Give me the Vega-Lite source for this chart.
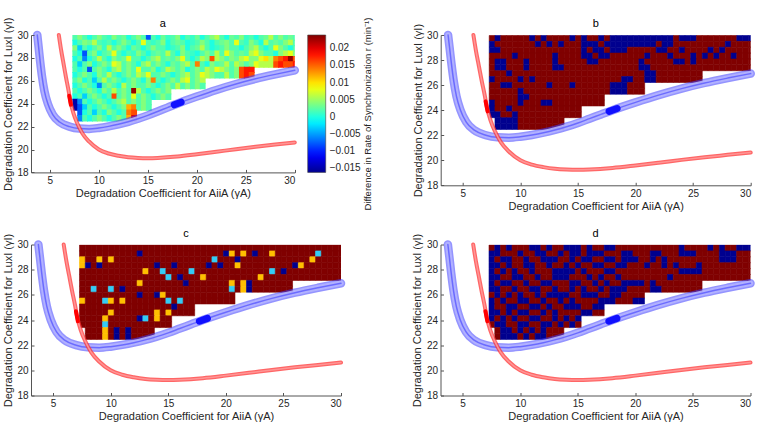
{
"$schema":"https://vega.github.io/schema/vega-lite/v6.json",
"autosize":{"type":"pad"},
"padding":{"left":2,"top":16,"right":0,"bottom":0},
"background":"white",
"spacing":15.5,
"config":{
"view":{"stroke":null},
"font":"Liberation Sans",
"axis":{"labelFont":"Liberation Sans","titleFont":"Liberation Sans","labelFontSize":10,"titleFontSize":11,"titleFontWeight":"normal","labelColor":"#262626","titleColor":"#262626","domainColor":"#555","tickColor":"#555","grid":false,"tickSize":-3,"labelPadding":6,"format":"d"},
"axisX":{"titlePadding":2},
"axisY":{"titlePadding":3.5},
"legend":{"labelFont":"Liberation Sans","labelFontSize":10,"labelColor":"#262626"}
},
"datasets":{
"blue":[{"x":3.72,"y":30},{"x":3.85,"y":29},{"x":4.0,"y":27.8},{"x":4.2,"y":26.4},{"x":4.45,"y":25.1},{"x":4.8,"y":24.0},{"x":5.3,"y":23.05},{"x":6.0,"y":22.4},{"x":7.0,"y":22.0},{"x":8.0,"y":21.83},{"x":9.0,"y":21.8},{"x":10.0,"y":21.88},{"x":11.0,"y":22.02},{"x":12.0,"y":22.2},{"x":13.0,"y":22.42},{"x":14.0,"y":22.68},{"x":15.0,"y":22.98},{"x":16.0,"y":23.32},{"x":17.0,"y":23.66},{"x":18.0,"y":24.0},{"x":20.0,"y":24.62},{"x":22.0,"y":25.2},{"x":24.0,"y":25.72},{"x":26.0,"y":26.17},{"x":28.0,"y":26.56},{"x":30.0,"y":26.92}],
"red":[{"x":5.92,"y":30},{"x":6.15,"y":28.7},{"x":6.4,"y":27.5},{"x":6.65,"y":26.3},{"x":6.9,"y":25.2},{"x":7.1,"y":24.2},{"x":7.4,"y":23.2},{"x":7.8,"y":22.3},{"x":8.3,"y":21.45},{"x":9.0,"y":20.7},{"x":10.0,"y":20.0},{"x":11.0,"y":19.65},{"x":12.0,"y":19.45},{"x":13.0,"y":19.32},{"x":14.0,"y":19.26},{"x":15.0,"y":19.24},{"x":16.0,"y":19.26},{"x":18.0,"y":19.38},{"x":20.0,"y":19.58},{"x":22.0,"y":19.8},{"x":24.0,"y":20.03},{"x":26.0,"y":20.24},{"x":28.0,"y":20.43},{"x":30.0,"y":20.62}],
"bspot":[{"x":17.7,"y":23.9},{"x":18.4,"y":24.13}],
"rspot":[{"x":6.98,"y":24.7},{"x":7.15,"y":23.9}],
"g":[
{"x":7.25,"y":29.531,"a":0.002},{"x":7.75,"y":29.531,"a":0.004,"b":1,"d":1},{"x":8.25,"y":29.531,"a":0.002},{"x":8.75,"y":29.531,"a":0,"d":1},{"x":9.25,"y":29.531,"a":0.002},{"x":9.75,"y":29.531,"a":0.004},{"x":10.25,"y":29.531,"a":0.002},{"x":10.75,"y":29.531,"a":0.001,"b":1,"d":1},{"x":11.25,"y":29.531,"a":0.004,"d":1},{"x":11.75,"y":29.531,"a":0.002,"b":1},{"x":12.25,"y":29.531,"a":0.003,"d":1},{"x":12.75,"y":29.531,"a":0},{"x":13.25,"y":29.531,"a":0.002},{"x":13.75,"y":29.531,"a":0.004,"d":1},{"x":14.25,"y":29.531,"a":0.002,"b":1,"d":1},{"x":14.75,"y":29.531,"a":-0.008,"d":1},{"x":15.25,"y":29.531,"a":0.002,"b":1},{"x":15.75,"y":29.531,"a":0,"d":1},{"x":16.25,"y":29.531,"a":0.003},{"x":16.75,"y":29.531,"a":0.001,"b":1},{"x":17.25,"y":29.531,"a":0.002,"d":1},{"x":17.75,"y":29.531,"a":0.004,"b":1,"d":1},{"x":18.25,"y":29.531,"a":0,"b":1},{"x":18.75,"y":29.531,"a":0.002,"b":1},{"x":19.25,"y":29.531,"a":0.001,"b":1},{"x":19.75,"y":29.531,"a":0.003,"b":1},{"x":20.25,"y":29.531,"a":0,"b":1},{"x":20.75,"y":29.531,"a":0.002,"b":1},{"x":21.25,"y":29.531,"a":0.004,"b":1},{"x":21.75,"y":29.531,"a":0.006,"b":1},{"x":22.25,"y":29.531,"a":0.002,"b":1},{"x":22.75,"y":29.531,"a":0,"b":1},{"x":23.25,"y":29.531,"a":0.003},{"x":23.75,"y":29.531,"a":0.002,"b":1,"d":1},{"x":24.25,"y":29.531,"a":0.004,"b":1},{"x":24.75,"y":29.531,"a":0.001,"b":1},{"x":25.25,"y":29.531,"a":0.002},{"x":25.75,"y":29.531,"a":0},{"x":26.25,"y":29.531,"a":0.002,"d":1},{"x":26.75,"y":29.531,"a":0.003},{"x":27.25,"y":29.531,"a":0.006,"d":1},{"x":27.75,"y":29.531,"a":0.002},{"x":28.25,"y":29.531,"a":0.004},{"x":28.75,"y":29.531,"a":0.002,"b":1,"d":1},{"x":29.25,"y":29.531,"a":0.003,"b":1,"d":1},{"x":29.75,"y":29.531,"a":0.002,"b":1,"d":1},
{"x":7.25,"y":29.063,"a":0,"b":1,"d":1},{"x":7.75,"y":29.063,"a":0.002,"d":1},{"x":8.25,"y":29.063,"a":0.004},{"x":8.75,"y":29.063,"a":0.003},{"x":9.25,"y":29.063,"a":0.006},{"x":9.75,"y":29.063,"a":0.002,"d":1},{"x":10.25,"y":29.063,"a":0.001},{"x":10.75,"y":29.063,"a":0.002},{"x":11.25,"y":29.063,"a":0,"b":1,"d":1},{"x":11.75,"y":29.063,"a":0.002,"d":1},{"x":12.25,"y":29.063,"a":0.004,"b":1,"c":1},{"x":12.75,"y":29.063,"a":0.002},{"x":13.25,"y":29.063,"a":0,"b":1,"d":1},{"x":13.75,"y":29.063,"a":0.002},{"x":14.25,"y":29.063,"a":0.008,"d":1},{"x":14.75,"y":29.063,"a":0.002,"d":1},{"x":15.25,"y":29.063,"a":0.001,"b":1},{"x":15.75,"y":29.063,"a":0.002,"b":1,"d":1},{"x":16.25,"y":29.063,"a":0.004,"b":1,"d":1},{"x":16.75,"y":29.063,"a":0,"d":1},{"x":17.25,"y":29.063,"a":0.002,"b":1},{"x":17.75,"y":29.063,"a":0.003,"b":1},{"x":18.25,"y":29.063,"a":0.002,"b":1},{"x":18.75,"y":29.063,"a":0,"b":1,"d":1},{"x":19.25,"y":29.063,"a":0.001,"b":1,"d":1},{"x":19.75,"y":29.063,"a":0.002,"b":1,"c":1},{"x":20.25,"y":29.063,"a":0.004,"b":1,"c":3},{"x":20.75,"y":29.063,"a":0.002,"b":1},{"x":21.25,"y":29.063,"a":0,"b":1,"c":3,"d":1},{"x":21.75,"y":29.063,"a":0.002,"d":1},{"x":22.25,"y":29.063,"a":0.003,"b":1,"c":1},{"x":22.75,"y":29.063,"a":0.004,"b":1},{"x":23.25,"y":29.063,"a":0.002},{"x":23.75,"y":29.063,"a":0.008,"c":3,"d":1},{"x":24.25,"y":29.063,"a":0.002,"d":1},{"x":24.75,"y":29.063,"a":0.001,"d":1},{"x":25.25,"y":29.063,"a":0.004},{"x":25.75,"y":29.063,"a":0.002},{"x":26.25,"y":29.063,"a":0},{"x":26.75,"y":29.063,"a":0.006},{"x":27.25,"y":29.063,"a":0.002,"d":1},{"x":27.75,"y":29.063,"a":0.003,"b":1,"c":2,"d":1},{"x":28.25,"y":29.063,"a":0.002,"d":1},{"x":28.75,"y":29.063,"a":0.004},{"x":29.25,"y":29.063,"a":0.006},{"x":29.75,"y":29.063,"a":0.002},
{"x":7.25,"y":28.594,"a":0.004,"b":1,"c":3,"d":1},{"x":7.75,"y":28.594,"a":-0.003,"b":1},{"x":8.25,"y":28.594,"a":0.002,"d":1},{"x":8.75,"y":28.594,"a":0,"c":3,"d":1},{"x":9.25,"y":28.594,"a":0.002},{"x":9.75,"y":28.594,"a":0.004,"c":3},{"x":10.25,"y":28.594,"a":0.001,"d":1},{"x":10.75,"y":28.594,"a":0.006},{"x":11.25,"y":28.594,"a":0.002},{"x":11.75,"y":28.594,"a":0.004,"d":1},{"x":12.25,"y":28.594,"a":0.002,"d":1},{"x":12.75,"y":28.594,"a":0,"d":1},{"x":13.25,"y":28.594,"a":0.003},{"x":13.75,"y":28.594,"a":0.002},{"x":14.25,"y":28.594,"a":0,"d":1},{"x":14.75,"y":28.594,"a":0.002},{"x":15.25,"y":28.594,"a":0.004,"b":1,"d":1},{"x":15.75,"y":28.594,"a":0.002,"d":1},{"x":16.25,"y":28.594,"a":0.002,"b":1},{"x":16.75,"y":28.594,"a":0,"b":1},{"x":17.25,"y":28.594,"a":0.001,"d":1},{"x":17.75,"y":28.594,"a":0.002,"b":1,"d":1},{"x":18.25,"y":28.594,"a":0.004,"b":1},{"x":18.75,"y":28.594,"a":0,"b":1,"c":2,"d":1},{"x":19.25,"y":28.594,"a":0.002,"d":1},{"x":19.75,"y":28.594,"a":0.003,"d":1},{"x":20.25,"y":28.594,"a":0.006},{"x":20.75,"y":28.594,"a":0.002,"c":1},{"x":21.25,"y":28.594,"a":0,"d":1},{"x":21.75,"y":28.594,"a":0.001,"b":1},{"x":22.25,"y":28.594,"a":0.002,"b":1,"d":1},{"x":22.75,"y":28.594,"a":0.004},{"x":23.25,"y":28.594,"a":0.002},{"x":23.75,"y":28.594,"a":0.002,"b":1},{"x":24.25,"y":28.594,"a":0},{"x":24.75,"y":28.594,"a":0.002},{"x":25.25,"y":28.594,"a":0.004},{"x":25.75,"y":28.594,"a":0.006},{"x":26.25,"y":28.594,"a":0.002,"b":1},{"x":26.75,"y":28.594,"a":0},{"x":27.25,"y":28.594,"a":0.002,"b":1,"c":3,"d":1},{"x":27.75,"y":28.594,"a":0.008,"d":1},{"x":28.25,"y":28.594,"a":0.004,"d":1},{"x":28.75,"y":28.594,"a":0.002},{"x":29.25,"y":28.594,"a":0},{"x":29.75,"y":28.594,"a":0.002},
{"x":7.25,"y":28.125,"a":0.002,"c":3,"d":1},{"x":7.75,"y":28.125,"a":0,"c":1,"d":1},{"x":8.25,"y":28.125,"a":-0.008},{"x":8.75,"y":28.125,"a":0.002,"c":1,"d":1},{"x":9.25,"y":28.125,"a":0.004,"b":1},{"x":9.75,"y":28.125,"a":0},{"x":10.25,"y":28.125,"a":0.002,"d":1},{"x":10.75,"y":28.125,"a":0.003,"d":1},{"x":11.25,"y":28.125,"a":0.008},{"x":11.75,"y":28.125,"a":0.002},{"x":12.25,"y":28.125,"a":0,"d":1},{"x":12.75,"y":28.125,"a":0.002,"b":1},{"x":13.25,"y":28.125,"a":0.001},{"x":13.75,"y":28.125,"a":0.004,"c":1,"d":1},{"x":14.25,"y":28.125,"a":0.002},{"x":14.75,"y":28.125,"a":0,"d":1},{"x":15.25,"y":28.125,"a":0.002,"b":1,"c":1},{"x":15.75,"y":28.125,"a":0.003,"b":1},{"x":16.25,"y":28.125,"a":0.002,"d":1},{"x":16.75,"y":28.125,"a":0.006,"b":1,"d":1},{"x":17.25,"y":28.125,"a":0.002,"b":1},{"x":17.75,"y":28.125,"a":0},{"x":18.25,"y":28.125,"a":0.004,"c":1,"d":1},{"x":18.75,"y":28.125,"a":0.002,"d":1},{"x":19.25,"y":28.125,"a":0.001,"c":1},{"x":19.75,"y":28.125,"a":0},{"x":20.25,"y":28.125,"a":0.002},{"x":20.75,"y":28.125,"a":0.004,"b":1,"c":3,"d":1},{"x":21.25,"y":28.125,"a":0.002},{"x":21.75,"y":28.125,"a":0.006},{"x":22.25,"y":28.125,"a":0.002,"d":1},{"x":22.75,"y":28.125,"a":0.008,"b":1},{"x":23.25,"y":28.125,"a":0.004,"d":1},{"x":23.75,"y":28.125,"a":0.002},{"x":24.25,"y":28.125,"a":0.003},{"x":24.75,"y":28.125,"a":0.002,"b":1},{"x":25.25,"y":28.125,"a":0.006,"d":1},{"x":25.75,"y":28.125,"a":0.008,"b":1,"c":1},{"x":26.25,"y":28.125,"a":0.004,"c":3},{"x":26.75,"y":28.125,"a":0.002,"b":1},{"x":27.25,"y":28.125,"a":0.002},{"x":27.75,"y":28.125,"a":0},{"x":28.25,"y":28.125,"a":0.004,"b":1},{"x":28.75,"y":28.125,"a":0.006},{"x":29.25,"y":28.125,"a":0.008},{"x":29.75,"y":28.125,"a":0.004},
{"x":7.25,"y":27.656,"a":0,"d":1},{"x":7.75,"y":27.656,"a":0.002,"b":1},{"x":8.25,"y":27.656,"a":-0.006,"b":1,"d":1},{"x":8.75,"y":27.656,"a":0},{"x":9.25,"y":27.656,"a":0.002,"d":1},{"x":9.75,"y":27.656,"a":0.006},{"x":10.25,"y":27.656,"a":0.002,"b":1},{"x":10.75,"y":27.656,"a":0,"d":1},{"x":11.25,"y":27.656,"a":0.004},{"x":11.75,"y":27.656,"a":0.002},{"x":12.25,"y":27.656,"a":0.003},{"x":12.75,"y":27.656,"a":0.008,"b":1,"c":3,"d":1},{"x":13.25,"y":27.656,"a":0.002,"d":1},{"x":13.75,"y":27.656,"a":0.002,"d":1},{"x":14.25,"y":27.656,"a":0,"c":2,"d":1},{"x":14.75,"y":27.656,"a":0.002},{"x":15.25,"y":27.656,"a":0.004,"d":1},{"x":15.75,"y":27.656,"a":0.006,"b":1},{"x":16.25,"y":27.656,"a":0.002,"b":1},{"x":16.75,"y":27.656,"a":0.003,"c":2},{"x":17.25,"y":27.656,"a":0.002,"d":1},{"x":17.75,"y":27.656,"a":0.004,"d":1},{"x":18.25,"y":27.656,"a":0.008},{"x":18.75,"y":27.656,"a":0.002},{"x":19.25,"y":27.656,"a":0},{"x":19.75,"y":27.656,"a":0.002},{"x":20.25,"y":27.656,"a":0.006,"b":1},{"x":20.75,"y":27.656,"a":0.004},{"x":21.25,"y":27.656,"a":0.016},{"x":21.75,"y":27.656,"a":0.006},{"x":22.25,"y":27.656,"a":0.004},{"x":22.75,"y":27.656,"a":0.002},{"x":23.25,"y":27.656,"a":0.004,"b":1},{"x":23.75,"y":27.656,"a":0.003,"b":1,"c":2,"d":1},{"x":24.25,"y":27.656,"a":0.006,"d":1},{"x":24.75,"y":27.656,"a":0.008,"b":1,"c":1,"d":1},{"x":25.25,"y":27.656,"a":0.004,"d":1},{"x":25.75,"y":27.656,"a":0.004},{"x":26.25,"y":27.656,"a":0.008},{"x":26.75,"y":27.656,"a":0.01},{"x":27.25,"y":27.656,"a":0.006},{"x":27.75,"y":27.656,"a":0.014},{"x":28.25,"y":27.656,"a":0.016},{"x":28.75,"y":27.656,"a":0.018},{"x":29.25,"y":27.656,"a":0.023},{"x":29.75,"y":27.656,"a":0.016},
{"x":7.25,"y":27.188,"a":0.002,"d":1},{"x":7.75,"y":27.188,"a":-0.003,"b":1,"d":1},{"x":8.25,"y":27.188,"a":0.002,"b":1},{"x":8.75,"y":27.188,"a":0.004},{"x":9.25,"y":27.188,"a":0,"d":1},{"x":9.75,"y":27.188,"a":0.002,"d":1},{"x":10.25,"y":27.188,"a":0.004,"b":1},{"x":10.75,"y":27.188,"a":0.002},{"x":11.25,"y":27.188,"a":0.008,"d":1},{"x":11.75,"y":27.188,"a":0.006},{"x":12.25,"y":27.188,"a":0.002},{"x":12.75,"y":27.188,"a":0.004,"b":1,"d":1},{"x":13.25,"y":27.188,"a":0.002,"b":1,"d":1},{"x":13.75,"y":27.188,"a":0,"d":1},{"x":14.25,"y":27.188,"a":0.004},{"x":14.75,"y":27.188,"a":0.006,"c":2},{"x":15.25,"y":27.188,"a":0.002},{"x":15.75,"y":27.188,"a":0.004,"c":1,"d":1},{"x":16.25,"y":27.188,"a":0.002},{"x":16.75,"y":27.188,"a":0,"d":1},{"x":17.25,"y":27.188,"a":0.003},{"x":17.75,"y":27.188,"a":0.002,"c":3},{"x":18.25,"y":27.188,"a":0.004,"d":1},{"x":18.75,"y":27.188,"a":0.006},{"x":19.25,"y":27.188,"a":0.002},{"x":19.75,"y":27.188,"a":0.014},{"x":20.25,"y":27.188,"a":0.002,"b":1},{"x":20.75,"y":27.188,"a":0,"b":1},{"x":21.25,"y":27.188,"a":0.004},{"x":21.75,"y":27.188,"a":0.002},{"x":22.25,"y":27.188,"a":0.003},{"x":22.75,"y":27.188,"a":0.006,"c":3,"d":1},{"x":23.25,"y":27.188,"a":0.002},{"x":23.75,"y":27.188,"a":0.006},{"x":24.25,"y":27.188,"a":0.004},{"x":24.75,"y":27.188,"a":0.002},{"x":25.25,"y":27.188,"a":0.004},{"x":25.75,"y":27.188,"a":0.008},{"x":26.25,"y":27.188,"a":0.006},{"x":26.75,"y":27.188,"a":0.006},{"x":27.25,"y":27.188,"a":0.006},{"x":27.75,"y":27.188,"a":0.016},{"x":28.25,"y":27.188,"a":0.018},{"x":28.75,"y":27.188,"a":0.016},{"x":29.25,"y":27.188,"a":0.016},{"x":29.75,"y":27.188,"a":0.018},
{"x":7.25,"y":26.719,"a":0.002,"d":1},{"x":7.75,"y":26.719,"a":0},{"x":8.25,"y":26.719,"a":0.002,"d":1},{"x":8.75,"y":26.719,"a":-0.008,"b":1,"d":1},{"x":9.25,"y":26.719,"a":0.002},{"x":9.75,"y":26.719,"a":0.004},{"x":10.25,"y":26.719,"a":0.002,"d":1},{"x":10.75,"y":26.719,"a":0},{"x":11.25,"y":26.719,"a":0.004},{"x":11.75,"y":26.719,"a":0.006,"d":1},{"x":12.25,"y":26.719,"a":0.002,"c":3,"d":1},{"x":12.75,"y":26.719,"a":0.004},{"x":13.25,"y":26.719,"a":0.002},{"x":13.75,"y":26.719,"a":0.008},{"x":14.25,"y":26.719,"a":0.002,"d":1},{"x":14.75,"y":26.719,"a":0.002,"d":1},{"x":15.25,"y":26.719,"a":0.004},{"x":15.75,"y":26.719,"a":0},{"x":16.25,"y":26.719,"a":0.002,"c":1,"d":1},{"x":16.75,"y":26.719,"a":0.006},{"x":17.25,"y":26.719,"a":0.004,"d":1},{"x":17.75,"y":26.719,"a":0.002},{"x":18.25,"y":26.719,"a":0.004},{"x":18.75,"y":26.719,"a":0,"d":1},{"x":19.25,"y":26.719,"a":0.002,"d":1},{"x":19.75,"y":26.719,"a":0.004,"d":1},{"x":20.25,"y":26.719,"a":0.002,"c":3,"d":1},{"x":20.75,"y":26.719,"a":0.006,"b":1},{"x":21.25,"y":26.719,"a":0.004,"b":1,"c":3,"d":1},{"x":21.75,"y":26.719,"a":0.008,"c":1},{"x":22.25,"y":26.719,"a":0.006},{"x":22.75,"y":26.719,"a":0.004},{"x":23.25,"y":26.719,"a":0.002},{"x":23.75,"y":26.719,"a":0.004},{"x":24.25,"y":26.719,"a":0.016},{"x":24.75,"y":26.719,"a":0.018},{"x":25.25,"y":26.719,"a":0.018},
{"x":7.25,"y":26.25,"a":0,"b":1,"d":1},{"x":7.75,"y":26.25,"a":0.002,"d":1},{"x":8.25,"y":26.25,"a":0.004,"c":2},{"x":8.75,"y":26.25,"a":0.002},{"x":9.25,"y":26.25,"a":0,"d":1},{"x":9.75,"y":26.25,"a":0.004,"b":1,"c":2},{"x":10.25,"y":26.25,"a":0.002},{"x":10.75,"y":26.25,"a":0.006,"b":1,"c":1,"d":1},{"x":11.25,"y":26.25,"a":0.002,"d":1},{"x":11.75,"y":26.25,"a":0},{"x":12.25,"y":26.25,"a":0.002},{"x":12.75,"y":26.25,"a":0.004,"d":1},{"x":13.25,"y":26.25,"a":0.002},{"x":13.75,"y":26.25,"a":0.006},{"x":14.25,"y":26.25,"a":0.004,"d":1},{"x":14.75,"y":26.25,"a":0.008},{"x":15.25,"y":26.25,"a":0.002,"d":1},{"x":15.75,"y":26.25,"a":0.002},{"x":16.25,"y":26.25,"a":0.004},{"x":16.75,"y":26.25,"a":0.002,"d":1},{"x":17.25,"y":26.25,"a":0},{"x":17.75,"y":26.25,"a":0.002,"d":1},{"x":18.25,"y":26.25,"a":0.004,"d":1},{"x":18.75,"y":26.25,"a":0.006,"b":1,"d":1},{"x":19.25,"y":26.25,"a":0.002,"b":1},{"x":19.75,"y":26.25,"a":0.004},{"x":20.25,"y":26.25,"a":0.008,"c":2},{"x":20.75,"y":26.25,"a":0.006,"b":1},{"x":21.25,"y":26.25,"a":0.004,"b":1,"c":3,"d":1},{"x":21.75,"y":26.25,"a":0.002,"c":1,"d":1},{"x":22.25,"y":26.25,"a":0.002},{"x":22.75,"y":26.25,"a":0.006},{"x":23.25,"y":26.25,"a":0.002},{"x":23.75,"y":26.25,"a":0.004},{"x":24.25,"y":26.25,"a":0.016},{"x":24.75,"y":26.25,"a":0.018},{"x":25.25,"y":26.25,"a":0.016},
{"x":7.25,"y":25.781,"a":0.002},{"x":7.75,"y":25.781,"a":0.004,"d":1},{"x":8.25,"y":25.781,"a":0,"b":1},{"x":8.75,"y":25.781,"a":0.002,"b":1,"d":1},{"x":9.25,"y":25.781,"a":-0.003},{"x":9.75,"y":25.781,"a":0.002,"d":1},{"x":10.25,"y":25.781,"a":0.006},{"x":10.75,"y":25.781,"a":0.002},{"x":11.25,"y":25.781,"a":0.004,"d":1},{"x":11.75,"y":25.781,"a":0.002},{"x":12.25,"y":25.781,"a":0,"b":1,"c":1,"d":1},{"x":12.75,"y":25.781,"a":0.002,"d":1},{"x":13.25,"y":25.781,"a":0.004,"d":1},{"x":13.75,"y":25.781,"a":0.002,"c":1,"d":1},{"x":14.25,"y":25.781,"a":0,"b":1,"c":3},{"x":14.75,"y":25.781,"a":0.004},{"x":15.25,"y":25.781,"a":0.014,"d":1},{"x":15.75,"y":25.781,"a":0.002,"d":1},{"x":16.25,"y":25.781,"a":0,"d":1},{"x":16.75,"y":25.781,"a":0.002},{"x":17.25,"y":25.781,"a":0.004},{"x":17.75,"y":25.781,"a":0.002,"b":1,"d":1},{"x":18.25,"y":25.781,"a":0.006,"b":1,"d":1},{"x":18.75,"y":25.781,"a":0.008,"b":1},{"x":19.25,"y":25.781,"a":0.002},{"x":19.75,"y":25.781,"a":0.004},{"x":20.25,"y":25.781,"a":0.006},
{"x":7.25,"y":25.313,"a":0,"c":3,"d":1},{"x":7.75,"y":25.313,"a":0.002},{"x":8.25,"y":25.313,"a":0.004,"d":1},{"x":8.75,"y":25.313,"a":0.002},{"x":9.25,"y":25.313,"a":0,"c":2},{"x":9.75,"y":25.313,"a":-0.006,"b":1,"c":3,"d":1},{"x":10.25,"y":25.313,"a":0.002,"d":1},{"x":10.75,"y":25.313,"a":0.004,"c":3},{"x":11.25,"y":25.313,"a":0.002},{"x":11.75,"y":25.313,"a":0,"d":1},{"x":12.25,"y":25.313,"a":0.006},{"x":12.75,"y":25.313,"a":0.002},{"x":13.25,"y":25.313,"a":0.004,"d":1},{"x":13.75,"y":25.313,"a":0.002},{"x":14.25,"y":25.313,"a":0.002,"d":1},{"x":14.75,"y":25.313,"a":0.004,"c":2},{"x":15.25,"y":25.313,"a":0.002},{"x":15.75,"y":25.313,"a":0,"c":2},{"x":16.25,"y":25.313,"a":0.002},{"x":16.75,"y":25.313,"a":0.004,"d":1},{"x":17.25,"y":25.313,"a":0.002,"d":1},{"x":17.75,"y":25.313,"a":0.006,"b":1,"d":1},{"x":18.25,"y":25.313,"a":0.002,"b":1},{"x":18.75,"y":25.313,"a":0.004,"b":1},{"x":19.25,"y":25.313,"a":0.002},{"x":19.75,"y":25.313,"a":0.004,"d":1},{"x":20.25,"y":25.313,"a":0.002,"d":1},
{"x":7.25,"y":24.844,"a":0.002,"d":1},{"x":7.75,"y":24.844,"a":0},{"x":8.25,"y":24.844,"a":0.002},{"x":8.75,"y":24.844,"a":0.004,"d":1},{"x":9.25,"y":24.844,"a":0.002,"d":1},{"x":9.75,"y":24.844,"a":0,"b":1},{"x":10.25,"y":24.844,"a":0.004,"b":1},{"x":10.75,"y":24.844,"a":0.002,"d":1},{"x":11.25,"y":24.844,"a":0.006,"d":1},{"x":11.75,"y":24.844,"a":0.002},{"x":12.25,"y":24.844,"a":0.004,"d":1},{"x":12.75,"y":24.844,"a":0.002},{"x":13.25,"y":24.844,"a":0.023},{"x":13.75,"y":24.844,"a":0.006,"d":1},{"x":14.25,"y":24.844,"a":0.002,"d":1},{"x":14.75,"y":24.844,"a":0,"d":1},{"x":15.25,"y":24.844,"a":0.002,"c":1},{"x":15.75,"y":24.844,"a":0.004},{"x":16.25,"y":24.844,"a":0.002,"d":1},{"x":16.75,"y":24.844,"a":0.004,"d":1},
{"x":7.25,"y":24.375,"a":0,"b":1,"d":1},{"x":7.75,"y":24.375,"a":0.002,"d":1},{"x":8.25,"y":24.375,"a":-0.003},{"x":8.75,"y":24.375,"a":0.002,"d":1},{"x":9.25,"y":24.375,"a":0.004},{"x":9.75,"y":24.375,"a":0.002,"b":1,"c":3,"d":1},{"x":10.25,"y":24.375,"a":0,"d":1},{"x":10.75,"y":24.375,"a":0.002},{"x":11.25,"y":24.375,"a":0.016},{"x":11.75,"y":24.375,"a":0.002,"b":1,"d":1},{"x":12.25,"y":24.375,"a":0.004,"b":1},{"x":12.75,"y":24.375,"a":0.002,"d":1},{"x":13.25,"y":24.375,"a":0.008},{"x":13.75,"y":24.375,"a":0.002,"c":3},{"x":14.25,"y":24.375,"a":0.004},{"x":14.75,"y":24.375,"a":0.002,"c":3},{"x":15.25,"y":24.375,"a":0,"d":1},{"x":15.75,"y":24.375,"a":0.002,"d":1},{"x":16.25,"y":24.375,"a":0.004},{"x":16.75,"y":24.375,"a":0.002},
{"x":7.25,"y":23.906,"a":-0.015,"b":1,"d":1},{"x":7.75,"y":23.906,"a":-0.006},{"x":8.25,"y":23.906,"a":0.002,"d":1},{"x":8.75,"y":23.906,"a":0,"b":1},{"x":9.25,"y":23.906,"a":0.002,"c":3,"d":1},{"x":9.75,"y":23.906,"a":0.004},{"x":10.25,"y":23.906,"a":0.002},{"x":10.75,"y":23.906,"a":0,"d":1},{"x":11.25,"y":23.906,"a":0.002,"d":1},{"x":11.75,"y":23.906,"a":0.004},{"x":12.25,"y":23.906,"a":0.006,"c":1},{"x":12.75,"y":23.906,"a":0.002,"c":2,"d":1},{"x":13.25,"y":23.906,"a":0.004},{"x":13.75,"y":23.906,"a":0.002,"c":3,"d":1},{"x":14.25,"y":23.906,"a":0.004},{"x":14.75,"y":23.906,"a":0.002,"d":1},
{"x":7.25,"y":23.438,"a":-0.015,"b":1},{"x":7.75,"y":23.438,"a":-0.008,"b":1,"d":1},{"x":8.25,"y":23.438,"a":-0.003,"d":1},{"x":8.75,"y":23.438,"a":0.002},{"x":9.25,"y":23.438,"a":0,"b":1,"c":2},{"x":9.75,"y":23.438,"a":0.002,"d":1},{"x":10.25,"y":23.438,"a":0.004,"d":1},{"x":10.75,"y":23.438,"a":0.002},{"x":11.25,"y":23.438,"a":0},{"x":11.75,"y":23.438,"a":0.002,"d":1},{"x":12.25,"y":23.438,"a":0.004,"d":1},{"x":12.75,"y":23.438,"a":0.012},{"x":13.25,"y":23.438,"a":0.014,"d":1},{"x":13.75,"y":23.438,"a":0.002},{"x":14.25,"y":23.438,"a":0.004,"d":1},{"x":14.75,"y":23.438,"a":0.002},
{"x":7.75,"y":22.969,"a":-0.008,"b":1},{"x":8.25,"y":22.969,"a":0,"b":1,"d":1},{"x":8.75,"y":22.969,"a":0.002,"b":1,"d":1},{"x":9.25,"y":22.969,"a":-0.003,"b":1,"c":3},{"x":9.75,"y":22.969,"a":0.002,"d":1},{"x":10.25,"y":22.969,"a":0,"c":1},{"x":10.75,"y":22.969,"a":0.004,"d":1},{"x":11.25,"y":22.969,"a":0.002,"c":1},{"x":11.75,"y":22.969,"a":0,"d":1},{"x":12.25,"y":22.969,"a":0.002},{"x":12.75,"y":22.969,"a":0.014},{"x":13.25,"y":22.969,"a":0.016},
{"x":7.75,"y":22.5,"a":-0.006,"b":1},{"x":8.25,"y":22.5,"a":0.002,"b":1,"d":1},{"x":8.75,"y":22.5,"a":0,"b":1,"d":1},{"x":9.25,"y":22.5,"a":0.002,"b":1,"c":3,"d":1},{"x":9.75,"y":22.5,"a":0.004},{"x":10.25,"y":22.5,"a":0.002,"c":1,"d":1},{"x":10.75,"y":22.5,"a":0},{"x":11.25,"y":22.5,"a":0.002,"c":1,"d":1},{"x":11.75,"y":22.5,"a":0.004,"d":1},{"x":12.25,"y":22.5,"a":0.002},{"x":12.75,"y":22.5,"a":0.012},{"x":13.25,"y":22.5,"a":0.02}
]
},
"vconcat":[
{"hconcat":[
{"width":263.8,"height":137.4,
"layer":[
{"data":{"name":"g"},"mark":{"type":"rect","clip":true},
"encoding":{
"x":{"field":"x","type":"quantitative","bin":{"binned":true,"step":0.6},"scale":{"domain":[3.08,30],"nice":false,"zero":false},"axis":{"values":[5,10,15,20,25,30],"title":"Degradation Coefficient for AiiA (γA)"}},
"y":{"field":"y","type":"quantitative","bin":{"binned":true,"step":0.56},"scale":{"domain":[18,30],"nice":false,"zero":false},"axis":{"values":[18,20,22,24,26,28,30],"title":"Degradation Coefficient for LuxI (γI)"}},
"color":{"field":"a","type":"quantitative","scale":{"domain":[-0.0162,-0.0112,-0.0012,0.0089,0.0189,0.0239],"range":["#00008f","#0000ff","#00ffff","#ffff00","#ff0000","#800000"],"interpolate":"rgb"},"legend":{"type":"gradient","orient":"none","legendX":276.7,"legendY":0,"direction":"vertical","gradientLength":137.4,"gradientThickness":18,"title":null,"values":[-0.015,-0.01,-0.005,0,0.005,0.01,0.015,0.02],"format":".3~f","labelOffset":4,"labelOverlap":false,"gradientStrokeColor":"#444","gradientStrokeWidth":0.6}}
}},
{"data":{"name":"blue"},"mark":{"type":"line","interpolate":"monotone","strokeWidth":8.5,"color":"#3c3cff","opacity":0.55,"strokeCap":"round"},"encoding":{"x":{"field":"x","type":"quantitative"},"y":{"field":"y","type":"quantitative"}}},
{"data":{"name":"blue"},"mark":{"type":"line","interpolate":"monotone","strokeWidth":5.5,"color":"#b4b4ff","opacity":0.9,"strokeCap":"round"},"encoding":{"x":{"field":"x","type":"quantitative"},"y":{"field":"y","type":"quantitative"}}},
{"data":{"name":"blue"},"mark":{"type":"line","interpolate":"monotone","strokeWidth":1.5,"color":"#5a5aff","opacity":0.8,"strokeCap":"round"},"encoding":{"x":{"field":"x","type":"quantitative"},"y":{"field":"y","type":"quantitative"}}},
{"data":{"name":"bspot"},"mark":{"type":"line","strokeWidth":7,"color":"#1010ff","strokeCap":"round"},"encoding":{"x":{"field":"x","type":"quantitative"},"y":{"field":"y","type":"quantitative"}}},
{"data":{"name":"red"},"mark":{"type":"line","interpolate":"monotone","strokeWidth":4,"color":"#ff3333","opacity":0.75,"strokeCap":"round"},"encoding":{"x":{"field":"x","type":"quantitative"},"y":{"field":"y","type":"quantitative"}}},
{"data":{"name":"red"},"mark":{"type":"line","interpolate":"monotone","strokeWidth":1.5,"color":"#ff9a9a","opacity":0.9,"strokeCap":"round"},"encoding":{"x":{"field":"x","type":"quantitative"},"y":{"field":"y","type":"quantitative"}}},
{"data":{"name":"rspot"},"mark":{"type":"line","strokeWidth":4,"color":"#ff0000","strokeCap":"round"},"encoding":{"x":{"field":"x","type":"quantitative"},"y":{"field":"y","type":"quantitative"}}},
{"data":{"values":[{"t":"a"}]},"mark":{"type":"text","fontSize":11,"font":"Liberation Sans","color":"#000","baseline":"middle"},"encoding":{"x":{"datum":16.54},"y":{"datum":30.96},"text":{"field":"t","type":"nominal"}}},
{"data":{"values":[{"t":"Difference in Rate of Synchronization r (min⁻¹)"}]},"mark":{"type":"text","angle":270,"fontSize":9.5,"font":"Liberation Sans","color":"#262626"},"encoding":{"x":{"datum":37.44},"y":{"datum":23.1},"text":{"field":"t","type":"nominal"}}}
]},
{"width":310,"height":150.3,
"layer":[
{"data":{"name":"g"},"mark":{"type":"rect","clip":true,"strokeWidth":0.6},
"encoding":{
"x":{"field":"x","type":"quantitative","bin":{"binned":true,"step":0.5},"scale":{"domain":[3.08,30],"nice":false,"zero":false},"axis":{"values":[5,10,15,20,25,30],"title":"Degradation Coefficient for AiiA (γA)"}},
"y":{"field":"y","type":"quantitative","bin":{"binned":true,"step":0.469},"scale":{"domain":[18,30],"nice":false,"zero":false},"axis":{"values":[18,20,22,24,26,28,30],"title":"Degradation Coefficient for LuxI (γI)"}},
"fill":{"condition":{"test":"datum.b==1","value":"#00008f"},"value":"#800000"},
"stroke":{"condition":{"test":"datum.b==1","value":"#00008f"},"value":"#800000"}
}},
{"data":{"name":"blue"},"mark":{"type":"line","interpolate":"monotone","strokeWidth":8.5,"color":"#3c3cff","opacity":0.55,"strokeCap":"round"},"encoding":{"x":{"field":"x","type":"quantitative"},"y":{"field":"y","type":"quantitative"}}},
{"data":{"name":"blue"},"mark":{"type":"line","interpolate":"monotone","strokeWidth":5.5,"color":"#b4b4ff","opacity":0.9,"strokeCap":"round"},"encoding":{"x":{"field":"x","type":"quantitative"},"y":{"field":"y","type":"quantitative"}}},
{"data":{"name":"blue"},"mark":{"type":"line","interpolate":"monotone","strokeWidth":1.5,"color":"#5a5aff","opacity":0.8,"strokeCap":"round"},"encoding":{"x":{"field":"x","type":"quantitative"},"y":{"field":"y","type":"quantitative"}}},
{"data":{"name":"bspot"},"mark":{"type":"line","strokeWidth":7,"color":"#1010ff","strokeCap":"round"},"encoding":{"x":{"field":"x","type":"quantitative"},"y":{"field":"y","type":"quantitative"}}},
{"data":{"name":"red"},"mark":{"type":"line","interpolate":"monotone","strokeWidth":4,"color":"#ff3333","opacity":0.75,"strokeCap":"round"},"encoding":{"x":{"field":"x","type":"quantitative"},"y":{"field":"y","type":"quantitative"}}},
{"data":{"name":"red"},"mark":{"type":"line","interpolate":"monotone","strokeWidth":1.5,"color":"#ff9a9a","opacity":0.9,"strokeCap":"round"},"encoding":{"x":{"field":"x","type":"quantitative"},"y":{"field":"y","type":"quantitative"}}},
{"data":{"name":"rspot"},"mark":{"type":"line","strokeWidth":4,"color":"#ff0000","strokeCap":"round"},"encoding":{"x":{"field":"x","type":"quantitative"},"y":{"field":"y","type":"quantitative"}}},
{"data":{"values":[{"t":"b"}]},"mark":{"type":"text","fontSize":11,"font":"Liberation Sans","color":"#000","baseline":"middle"},"encoding":{"x":{"datum":16.54},"y":{"datum":30.88},"text":{"field":"t","type":"nominal"}}}
]}
],"spacing":145.7,"bounds":"flush"},
{"hconcat":[
{"width":310,"height":151,
"layer":[
{"data":{"name":"g"},"mark":{"type":"rect","clip":true,"strokeWidth":0.6},
"encoding":{
"x":{"field":"x","type":"quantitative","bin":{"binned":true,"step":0.5},"scale":{"domain":[3.08,30],"nice":false,"zero":false},"axis":{"values":[5,10,15,20,25,30],"title":"Degradation Coefficient for AiiA (γA)"}},
"y":{"field":"y","type":"quantitative","bin":{"binned":true,"step":0.469},"scale":{"domain":[18,30],"nice":false,"zero":false},"axis":{"values":[18,20,22,24,26,28,30],"title":"Degradation Coefficient for LuxI (γI)"}},
"fill":{"condition":[{"test":"datum.c==1","value":"#00008f"},{"test":"datum.c==2","value":"#33ccf5"},{"test":"datum.c==3","value":"#ffc000"}],"value":"#800000"},
"stroke":{"condition":[{"test":"datum.c==1","value":"#00008f"},{"test":"datum.c==2","value":"#33ccf5"},{"test":"datum.c==3","value":"#ffc000"}],"value":"#800000"}
}},
{"data":{"name":"blue"},"mark":{"type":"line","interpolate":"monotone","strokeWidth":8.5,"color":"#3c3cff","opacity":0.55,"strokeCap":"round"},"encoding":{"x":{"field":"x","type":"quantitative"},"y":{"field":"y","type":"quantitative"}}},
{"data":{"name":"blue"},"mark":{"type":"line","interpolate":"monotone","strokeWidth":5.5,"color":"#b4b4ff","opacity":0.9,"strokeCap":"round"},"encoding":{"x":{"field":"x","type":"quantitative"},"y":{"field":"y","type":"quantitative"}}},
{"data":{"name":"blue"},"mark":{"type":"line","interpolate":"monotone","strokeWidth":1.5,"color":"#5a5aff","opacity":0.8,"strokeCap":"round"},"encoding":{"x":{"field":"x","type":"quantitative"},"y":{"field":"y","type":"quantitative"}}},
{"data":{"name":"bspot"},"mark":{"type":"line","strokeWidth":7,"color":"#1010ff","strokeCap":"round"},"encoding":{"x":{"field":"x","type":"quantitative"},"y":{"field":"y","type":"quantitative"}}},
{"data":{"name":"red"},"mark":{"type":"line","interpolate":"monotone","strokeWidth":4,"color":"#ff3333","opacity":0.75,"strokeCap":"round"},"encoding":{"x":{"field":"x","type":"quantitative"},"y":{"field":"y","type":"quantitative"}}},
{"data":{"name":"red"},"mark":{"type":"line","interpolate":"monotone","strokeWidth":1.5,"color":"#ff9a9a","opacity":0.9,"strokeCap":"round"},"encoding":{"x":{"field":"x","type":"quantitative"},"y":{"field":"y","type":"quantitative"}}},
{"data":{"name":"rspot"},"mark":{"type":"line","strokeWidth":4,"color":"#ff0000","strokeCap":"round"},"encoding":{"x":{"field":"x","type":"quantitative"},"y":{"field":"y","type":"quantitative"}}},
{"data":{"values":[{"t":"c"}]},"mark":{"type":"text","fontSize":11,"font":"Liberation Sans","color":"#000","baseline":"middle"},"encoding":{"x":{"datum":16.54},"y":{"datum":30.87},"text":{"field":"t","type":"nominal"}}}
]},
{"width":310,"height":151,
"layer":[
{"data":{"name":"g"},"mark":{"type":"rect","clip":true,"strokeWidth":0.6},
"encoding":{
"x":{"field":"x","type":"quantitative","bin":{"binned":true,"step":0.5},"scale":{"domain":[3.08,30],"nice":false,"zero":false},"axis":{"values":[5,10,15,20,25,30],"title":"Degradation Coefficient for AiiA (γA)"}},
"y":{"field":"y","type":"quantitative","bin":{"binned":true,"step":0.469},"scale":{"domain":[18,30],"nice":false,"zero":false},"axis":{"values":[18,20,22,24,26,28,30],"title":"Degradation Coefficient for LuxI (γI)"}},
"fill":{"condition":{"test":"datum.d==1","value":"#00008f"},"value":"#800000"},
"stroke":{"condition":{"test":"datum.d==1","value":"#00008f"},"value":"#800000"}
}},
{"data":{"name":"blue"},"mark":{"type":"line","interpolate":"monotone","strokeWidth":8.5,"color":"#3c3cff","opacity":0.55,"strokeCap":"round"},"encoding":{"x":{"field":"x","type":"quantitative"},"y":{"field":"y","type":"quantitative"}}},
{"data":{"name":"blue"},"mark":{"type":"line","interpolate":"monotone","strokeWidth":5.5,"color":"#b4b4ff","opacity":0.9,"strokeCap":"round"},"encoding":{"x":{"field":"x","type":"quantitative"},"y":{"field":"y","type":"quantitative"}}},
{"data":{"name":"blue"},"mark":{"type":"line","interpolate":"monotone","strokeWidth":1.5,"color":"#5a5aff","opacity":0.8,"strokeCap":"round"},"encoding":{"x":{"field":"x","type":"quantitative"},"y":{"field":"y","type":"quantitative"}}},
{"data":{"name":"bspot"},"mark":{"type":"line","strokeWidth":7,"color":"#1010ff","strokeCap":"round"},"encoding":{"x":{"field":"x","type":"quantitative"},"y":{"field":"y","type":"quantitative"}}},
{"data":{"name":"red"},"mark":{"type":"line","interpolate":"monotone","strokeWidth":4,"color":"#ff3333","opacity":0.75,"strokeCap":"round"},"encoding":{"x":{"field":"x","type":"quantitative"},"y":{"field":"y","type":"quantitative"}}},
{"data":{"name":"red"},"mark":{"type":"line","interpolate":"monotone","strokeWidth":1.5,"color":"#ff9a9a","opacity":0.9,"strokeCap":"round"},"encoding":{"x":{"field":"x","type":"quantitative"},"y":{"field":"y","type":"quantitative"}}},
{"data":{"name":"rspot"},"mark":{"type":"line","strokeWidth":4,"color":"#ff0000","strokeCap":"round"},"encoding":{"x":{"field":"x","type":"quantitative"},"y":{"field":"y","type":"quantitative"}}},
{"data":{"values":[{"t":"d"}]},"mark":{"type":"text","fontSize":11,"font":"Liberation Sans","color":"#000","baseline":"middle"},"encoding":{"x":{"datum":16.54},"y":{"datum":30.87},"text":{"field":"t","type":"nominal"}}}
]}
],"spacing":99.5,"bounds":"flush"}
]
}
